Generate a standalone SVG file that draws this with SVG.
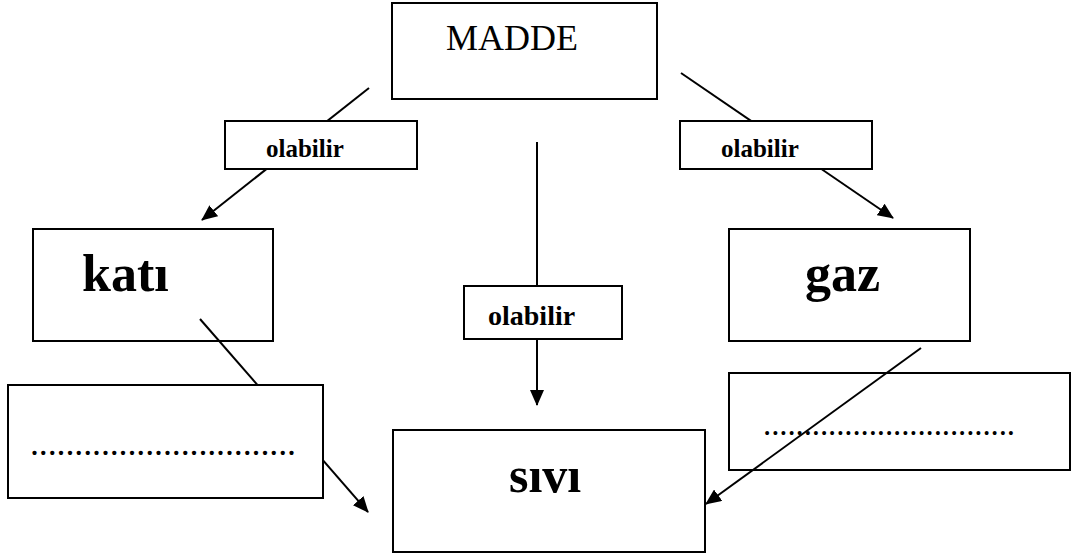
<svg xmlns="http://www.w3.org/2000/svg" width="1071" height="556" viewBox="0 0 1071 556">
<style>
.box{fill:#fff;stroke:#000;stroke-width:2}
.open{fill:none;stroke:#000;stroke-width:2}
.ln{stroke:#000;stroke-width:2;fill:none}
.t{font-family:"Liberation Serif","Times New Roman",serif;fill:#000}
.b{font-weight:bold}
</style>
<defs>
<marker id="ah" markerUnits="userSpaceOnUse" markerWidth="16" markerHeight="14" refX="15" refY="7" orient="auto">
<path d="M0,0 L16,7 L0,14 z" fill="#000"/>
</marker>
</defs>
<rect width="1071" height="556" fill="#fff"/>
<g id="connectors">
<line class="ln" x1="369" y1="88" x2="202" y2="220" marker-end="url(#ah)"/>
<line class="ln" x1="681" y1="73" x2="893" y2="218" marker-end="url(#ah)"/>
<line class="ln" x1="537" y1="142" x2="537" y2="405" marker-end="url(#ah)"/>
<line class="ln" x1="200" y1="319" x2="368" y2="512" marker-end="url(#ah)"/>
</g>
<g id="madde"><rect class="box" x="392" y="3" width="265" height="96"/><text class="t" x="446" y="50" font-size="36">MADDE</text></g>
<g id="olabilir-left"><rect class="box" x="225" y="121" width="192" height="48"/><text class="t b" x="266" y="157" font-size="25">olabilir</text></g>
<g id="olabilir-right"><rect class="box" x="680" y="121" width="192" height="48"/><text class="t b" x="721" y="157" font-size="25">olabilir</text></g>
<g id="olabilir-mid"><rect class="box" x="464" y="286" width="158" height="53"/><text class="t b" x="488" y="325" font-size="28">olabilir</text></g>
<g id="kati"><rect class="open" x="33" y="229" width="240" height="112"/><text class="t b" x="82" y="291" font-size="52">katı</text></g>
<g id="gaz"><rect class="box" x="729" y="229" width="241" height="112"/><text class="t b" x="805" y="291" font-size="52">gaz</text></g>
<g id="blank-left"><rect class="box" x="8" y="385" width="315" height="113"/><text class="t" x="30" y="455" font-size="36" textLength="266" lengthAdjust="spacing">..............................</text></g>
<g id="blank-right"><rect class="open" x="729" y="373" width="341" height="97"/><text class="t" x="763" y="435" font-size="33" textLength="252" lengthAdjust="spacing">...............................</text></g>
<g id="sivi"><rect class="box" x="393" y="430" width="312" height="122"/><text class="t b" x="509" y="492" font-size="50">sıvı</text></g>
<g id="connector-gaz"><line class="ln" x1="921" y1="348" x2="706" y2="504" marker-end="url(#ah)"/></g>
</svg>
